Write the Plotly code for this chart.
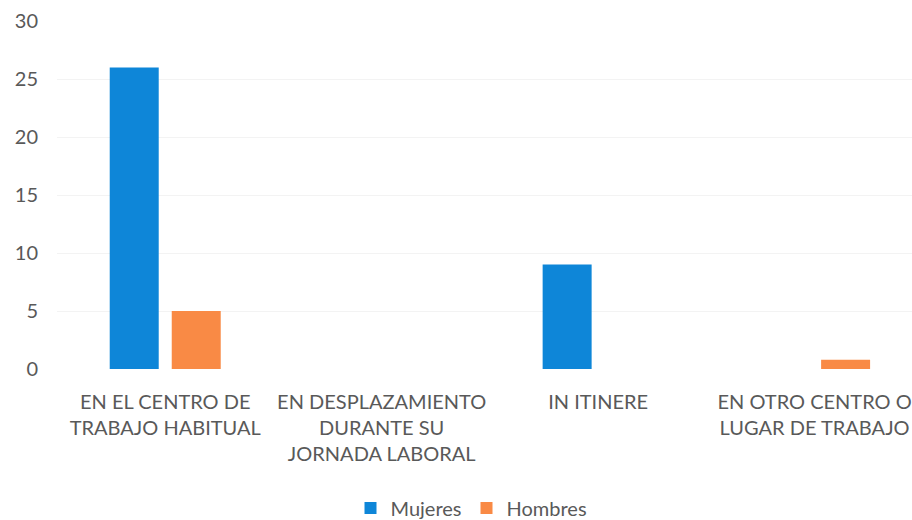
import plotly.graph_objects as go

categories = [
    "EN EL CENTRO DE<br>TRABAJO HABITUAL",
    "EN DESPLAZAMIENTO<br>DURANTE SU<br>JORNADA LABORAL",
    "IN ITINERE",
    "EN OTRO CENTRO O<br>LUGAR DE TRABAJO",
]
mujeres = [26, 0, 9, 0]
hombres = [5, 0, 0, 0.8]
y_ticks = [0, 5, 10, 15, 20, 25, 30]

FONT = "Lato, 'Noto Sans', sans-serif"
TXT = "#595959"

fig = go.Figure()
fig.add_trace(go.Bar(name="Mujeres", x=categories, y=mujeres, marker_color="#0E86D8", marker_line_width=0))
fig.add_trace(go.Bar(name="Hombres", x=categories, y=hombres, marker_color="#F98A45", marker_line_width=0))

fig.update_layout(
    width=912, height=520,
    margin=dict(l=57, r=0, t=21, b=151, autoexpand=False),
    paper_bgcolor="white", plot_bgcolor="white",
    barmode="group", bargap=0.427, bargroupgap=0.21,
    font=dict(family=FONT, size=20, color=TXT),
    showlegend=True,
    legend=dict(orientation="h", xref="container", yref="container",
                x=0.517, xanchor="center", y=0.023, yanchor="middle",
                font=dict(size=20, color=TXT), itemwidth=30, traceorder="normal"),
    xaxis=dict(range=[-0.5, 3.45], showgrid=False, showline=False, zeroline=False,
               ticks="", tickfont=dict(size=20, color=TXT), tickangle=0,
               automargin=False, ticklabelstandoff=19),
    yaxis=dict(range=[0, 30], tickvals=y_ticks, showgrid=True, gridcolor="#f3f3f3",
               gridwidth=1, zeroline=False, showline=False, ticks="",
               tickfont=dict(size=20, color=TXT), ticklabelstandoff=18,
               automargin=False),
)

fig.write_html(
    "out.html",
    config={"displayModeBar": False},
    post_script="document.body.style.margin='0';document.body.style.padding='0';document.body.style.overflow='hidden';",
)
